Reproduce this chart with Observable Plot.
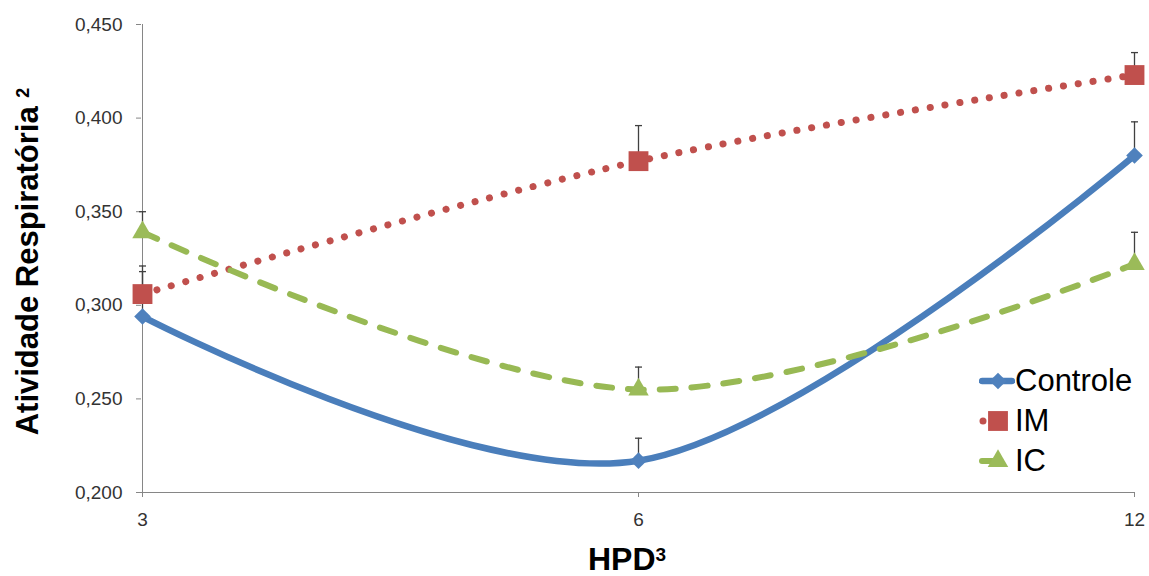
<!DOCTYPE html>
<html><head><meta charset="utf-8">
<script src="https://cdn.jsdelivr.net/npm/d3@7"></script>
<script src="https://cdn.jsdelivr.net/npm/@observablehq/plot@0.6"></script>
<style>
body{margin:0;background:#fff;}
#wrap{position:relative;width:1149px;height:576px;font-family:"Liberation Sans",Arial,sans-serif;}
#legend{position:absolute;left:979px;top:361px;}
.row{display:flex;align-items:center;height:40px;font-size:31px;color:#000;line-height:40px;}
</style></head><body><div id="wrap"><div id="chart"></div><div id="legend"></div></div>
<script>
const categories = ["3", "6", "12"];
const seriesNames = ["Controle", "IM", "IC"];
const controleValues = [0.294, 0.217, 0.380];
const controleTops = [0.318, 0.229, 0.398];
const imValues = [0.306, 0.377, 0.423];
const imTops = [0.321, 0.396, 0.435];
const icValues = [0.339, 0.255, 0.322];
const icTops = [0.350, 0.267, 0.339];
const yTicks = [0.200, 0.250, 0.300, 0.350, 0.400, 0.450];
const yTitleMain = "Atividade Respiratória ";
const yTitleSup = "2";
const xTitleMain = "HPD";
const xTitleSup = "3";

const styles = {
  "Controle": {line: "#4A7EBB", fill: "#4F81BD", symbol: "diamond2", r: 7.5, width: 6.5, dash: null, cap: "round"},
  "IM": {line: "#C0504D", fill: "#C0504D", symbol: "square", r: 11.2, width: 7, dash: "0.1,14.9", cap: "round"},
  "IC": {line: "#98B954", fill: "#9BBB59", symbol: "triangle", r: 7.6, width: 6, dash: "16,16", cap: "round"}
};
const valuesBy = {"Controle": controleValues, "IM": imValues, "IC": icValues};
const topsBy = {"Controle": controleTops, "IM": imTops, "IC": icTops};

const rows = seriesNames.flatMap(s => categories.map((c, i) => ({series: s, cat: c, value: valuesBy[s][i], top: topsBy[s][i]})));

const capSymbol = {draw(ctx) { ctx.moveTo(-3.5, 0); ctx.lineTo(3.5, 0); }};
const fmt = d => d3.format(".3f")(d).replace(".", ",");
const font = '"Liberation Sans", Arial, sans-serif';

const lineMarks = seriesNames.map(s => Plot.line(rows.filter(d => d.series === s), {
  x: "cat", y: "value", curve: "cardinal", stroke: styles[s].line, strokeWidth: styles[s].width,
  strokeDasharray: styles[s].dash, strokeLinecap: styles[s].cap, strokeLinejoin: "round"
}));
const dotMarks = seriesNames.map(s => Plot.dot(rows.filter(d => d.series === s), {
  x: "cat", y: "value", symbol: styles[s].symbol, r: styles[s].r, fill: styles[s].fill, stroke: "none"
}));

const chart = Plot.plot({
  width: 1149, height: 576,
  marginLeft: 141, marginRight: 15, marginTop: 24, marginBottom: 84,
  style: {fontFamily: font, fontSize: "19px", background: "#fff"},
  x: {type: "point", domain: categories, padding: 0},
  y: {domain: [yTicks[0], yTicks[yTicks.length - 1]]},
  marks: [
    Plot.ruleX([categories[0]], {stroke: "#868686", strokeWidth: 1}),
    Plot.ruleY([yTicks[0]], {stroke: "#868686", strokeWidth: 1}),
    Plot.axisY({ticks: yTicks, tickSize: 5, tickPadding: 14, tickFormat: fmt, fontSize: 19, stroke: "#868686", fill: "#333", label: null}),
    Plot.axisX({tickSize: 5, tickPadding: 15, fontSize: 19, stroke: "#868686", fill: "#333", label: null}),
    ...lineMarks,
    Plot.ruleX(rows, {x: "cat", y1: "value", y2: "top", stroke: "#404040", strokeWidth: 1.3}),
    Plot.dot(rows, {x: "cat", y: "top", symbol: capSymbol, stroke: "#404040", fill: "none", strokeWidth: 1.3}),
    ...dotMarks,
    Plot.text([yTitleMain + yTitleSup], {frameAnchor: "left", textAnchor: "middle", dx: -126, dy: 3, rotate: -90, lineAnchor: "top", fontSize: 31, fontWeight: "bold", fill: "#000"}),
    Plot.text([xTitleMain + xTitleSup], {frameAnchor: "bottom", textAnchor: "middle", dx: -11, dy: 77, lineAnchor: "bottom", fontSize: 32, fontWeight: "bold", fill: "#000"})
  ]
});
document.getElementById("chart").appendChild(chart);

// superscripts in the axis titles
function superscript(full, main, sup, size, shift) {
  d3.select(chart).selectAll("text").filter(function() { return this.textContent === full; }).each(function() {
    const t = d3.select(this);
    t.text(null);
    t.append("tspan").text(main);
    t.append("tspan").attr("font-size", size).attr("dy", shift).text(sup);
  });
}
superscript(yTitleMain + yTitleSup, yTitleMain, yTitleSup, 18, -9);
superscript(xTitleMain + xTitleSup, xTitleMain, xTitleSup, 19, -9);

// legend
function symbolPath(name, r) {
  const sym = {diamond2: d3.symbolDiamond2, square: d3.symbolSquare, triangle: d3.symbolTriangle}[name];
  return d3.symbol(sym, Math.PI * r * r)();
}
const legend = document.getElementById("legend");
seriesNames.forEach(s => {
  const st = styles[s];
  let lineEl;
  if (s === "Controle") lineEl = `<line x1="3" x2="33" y1="20" y2="20" stroke="${st.line}" stroke-width="${st.width}" stroke-linecap="round"/>`;
  else if (s === "IM") lineEl = `<circle cx="4" cy="20" r="3.5" fill="${st.line}"/>`;
  else lineEl = `<line x1="3" x2="14" y1="20" y2="20" stroke="${st.line}" stroke-width="${st.width}" stroke-linecap="round"/>`;
  const row = document.createElement("div");
  row.className = "row";
  row.innerHTML = `<svg width="36" height="40">${lineEl}<path transform="translate(19,20)" d="${symbolPath(st.symbol, st.r)}" fill="${st.fill}"/></svg><span>${s}</span>`;
  legend.appendChild(row);
});
</script></body></html>
